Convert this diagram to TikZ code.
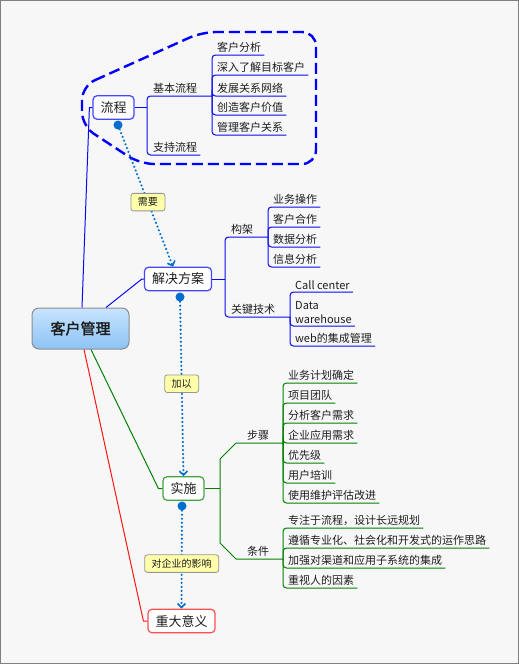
\documentclass[tikz,border=0pt]{standalone}
\usepackage{fontspec}
\setmainfont{Noto Sans CJK SC}[AutoFakeBold=2]
\usepackage{xcolor}
\usepackage{tikz}
\usetikzlibrary{arrows.meta}

\definecolor{bgc}{RGB}{247,247,247}
\definecolor{framec}{RGB}{128,128,128}
\definecolor{dashb}{RGB}{0,0,255}
\definecolor{lnb}{RGB}{10,10,240}
\definecolor{lng}{RGB}{0,128,0}
\definecolor{lnr}{RGB}{255,20,20}
\definecolor{lcb}{RGB}{70,70,255}
\definecolor{ssg}{RGB}{70,160,70}
\definecolor{yyr}{RGB}{255,80,80}
\definecolor{rel}{RGB}{0,110,205}
\definecolor{lblfill}{RGB}{255,255,170}
\definecolor{lblframe}{RGB}{150,150,150}
\definecolor{roottop}{RGB}{200,228,255}
\definecolor{rootbot}{RGB}{140,195,245}
\definecolor{rootframe}{RGB}{140,140,140}
\definecolor{textc}{RGB}{30,30,30}

\begin{document}
\begin{tikzpicture}[x=1pt,y=-1pt,
        root/.style={rectangle,rounded corners=7pt,draw=rootframe,line width=1pt,top color=roottop,bottom color=rootbot,minimum width=97pt,minimum height=41pt,font=\fontsize{15}{18}\selectfont\bfseries,text=textc},
        mtopic/.style={rectangle,rounded corners=4pt,fill=white,line width=1.2pt,minimum height=23.5pt,inner xsep=7.5pt,font=\fontsize{13}{15}\selectfont,text=textc},
        sub/.style={anchor=south west,inner xsep=3pt,inner ysep=2pt,font=\fontsize{11}{14}\selectfont,text=textc},
        lbl/.style={rectangle,solid,rounded corners=2.5pt,fill=lblfill,draw=lblframe,line width=0.8pt,minimum height=17.5pt,inner xsep=7pt,font=\fontsize{10}{12}\selectfont,text=textc},
        dot/.style={circle,fill=rel,inner sep=0pt,minimum size=9pt},
        bl/.style={draw=lnb,line width=1pt},
        gr/.style={draw=lng,line width=1pt},
        rd/.style={draw=lnr,line width=1pt},
        rc/.style={rounded corners=3.5pt},
        relline/.style={draw=rel,line width=2.4pt,line cap=round,dash pattern=on 0.01pt off 4pt,-{Straight Barb[length=4pt,width=8pt,line width=1.6pt,line cap=butt]}}]

        \useasboundingbox (0,0) rectangle (519,664);
        \fill[bgc] (0,0) rectangle (519,664);
        \draw[framec,line width=1pt] (0.5,0.5) rectangle (518.5,663.5);
        \draw[dashb,line width=2.4pt,dash pattern=on 11pt off 5pt,rounded corners=14pt] (82,86) -- (202,32) -- (316,32) -- (316,164) -- (140,164) -- (82,126) -- cycle;

        \node[root] (kh) at (80.5,328.5) {客户管理};
        \node[mtopic,draw=lcb] (lc) at (113.5,107.5) {流程};
        \node[mtopic,draw=lcb] (jf) at (178,279) {解决方案};
        \node[mtopic,draw=ssg] (ss) at (183.5,488.5) {实施};
        \node[mtopic,draw=yyr] (yy) at (181.5,621) {重大意义};

        \node[dot] (lcd) at (118,125) {};
        \node[dot] (jfd) at (180,297) {};
        \node[dot] (ssd) at (182,506) {};

        \node[sub] (jb) at (150,96) {基本流程};
        \node[sub] (zc) at (150,155) {支持流程};
        \node[sub] (jb1) at (214,55) {客户分析};
        \node[sub] (jb2) at (214,75) {深入了解目标客户};
        \node[sub] (jb3) at (214,96) {发展关系网络};
        \node[sub] (jb4) at (214,115) {创造客户价值};
        \node[sub] (jb5) at (214,135) {管理客户关系};

        \node[sub] (gj) at (228,237) {构架};
        \node[sub] (gs) at (228,317) {关键技术};
        \node[sub] (gj1) at (270,207) {业务操作};
        \node[sub] (gj2) at (270,227) {客户合作};
        \node[sub] (gj3) at (270,247) {数据分析};
        \node[sub] (gj4) at (270,267) {信息分析};
        \node[sub] (gs1) at (292,292) {Call center};
        \node[sub,align=left] (gs2) at (292,326) {Data\\warehouse};
        \node[sub] (gs3) at (292,346) {web的集成管理};

        \node[sub] (bz) at (244,443) {步骤};
        \node[sub] (tj) at (244,559) {条件};
        \node[sub] (bz1) at (285,383) {业务计划确定};
        \node[sub] (bz2) at (285,403) {项目团队};
        \node[sub] (bz3) at (285,423) {分析客户需求};
        \node[sub] (bz4) at (285,443) {企业应用需求};
        \node[sub] (bz5) at (285,463) {优先级};
        \node[sub] (bz6) at (285,483) {用户培训};
        \node[sub] (bz7) at (285,503) {使用维护评估改进};
        \node[sub] (tj1) at (285,528) {专注于流程，设计长远规划};
        \node[sub] (tj2) at (285,548) {遵循专业化、社会化和开发式的运作思路};
        \node[sub] (tj3) at (285,568) {加强对渠道和应用子系统的集成};
        \node[sub] (tj4) at (285,588) {重视人的因素};

        \coordinate (lcj) at (147,107.5);
        \coordinate (jbj) at (212,96);
        \coordinate (jfj) at (225,279);
        \coordinate (gjj) at (268,237);
        \coordinate (gsj) at (290,317);
        \coordinate (ssj) at (220,488.5);
        \coordinate (bzj) at (283,443);
        \coordinate (tjj) at (283,559);

        \draw[bl] ([xshift=1.5pt]kh.north) -- ([xshift=-3pt]lc.west) -- (lc.west);
        \draw[bl] ([xshift=25.5pt]kh.north) -- ([xshift=-2pt]jf.west) -- (jf.west);
        \draw[gr] ([xshift=10.5pt]kh.south) -- ([xshift=-4pt]ss.west) -- (ss.west);
        \draw[rd] ([xshift=3.5pt]kh.south) -- ([xshift=-4pt]yy.west) -- (yy.west);

        \draw[bl] (lc.east) -- (lcj);
        \draw[bl,rc] (lcj) |- (jbj);
        \draw[bl,rc] (lcj) |- (zc.south east);
        \draw[bl,rc] (jbj) |- (jb1.south east);
        \draw[bl,rc] (jbj) |- (jb2.south east);
        \draw[bl,rc] (jbj) |- (jb3.south east);
        \draw[bl,rc] (jbj) |- (jb4.south east);
        \draw[bl,rc] (jbj) |- (jb5.south east);

        \draw[bl] (jf.east) -- (jfj);
        \draw[bl,rc] (jfj) |- (gjj);
        \draw[bl,rc] (jfj) |- (gsj);
        \draw[bl,rc] (gjj) |- (gj1.south east);
        \draw[bl,rc] (gjj) |- (gj2.south east);
        \draw[bl,rc] (gjj) |- (gj3.south east);
        \draw[bl,rc] (gjj) |- (gj4.south east);
        \draw[bl,rc] (gsj) |- (gs1.south east);
        \draw[bl,rc] (gsj) |- (gs2.south east);
        \draw[bl,rc] (gsj) |- (gs3.south east);

        \draw[gr] (ss.east) -- (ssj);
        \draw[gr] (ssj) -- ++(0,-29.5) -- ++(16,-16) -- (bzj);
        \draw[gr] (ssj) -- ++(0,54.5) -- ++(16,16) -- (tjj);
        \draw[gr,rc] (bzj) |- (bz1.south east);
        \draw[gr,rc] (bzj) |- (bz2.south east);
        \draw[gr,rc] (bzj) |- (bz3.south east);
        \draw[gr,rc] (bzj) |- (bz4.south east);
        \draw[gr,rc] (bzj) |- (bz5.south east);
        \draw[gr,rc] (bzj) |- (bz6.south east);
        \draw[gr,rc] (bzj) |- (bz7.south east);
        \draw[gr,rc] (tjj) |- (tj1.south east);
        \draw[gr,rc] (tjj) |- (tj2.south east);
        \draw[gr,rc] (tjj) |- (tj3.south east);
        \draw[gr,rc] (tjj) |- (tj4.south east);

        \draw[relline] (lcd) -- node[lbl,pos=0.53] (xy) {需要} ([xshift=-5pt]jf.north);
        \draw[relline] (jfd) -- node[lbl,pos=0.47] (jy) {加以} (ss.north);
        \draw[relline] (ssd) -- node[lbl,pos=0.54] (yx) {对企业的影响} (yy.north);
    \end{tikzpicture}
\end{document}
